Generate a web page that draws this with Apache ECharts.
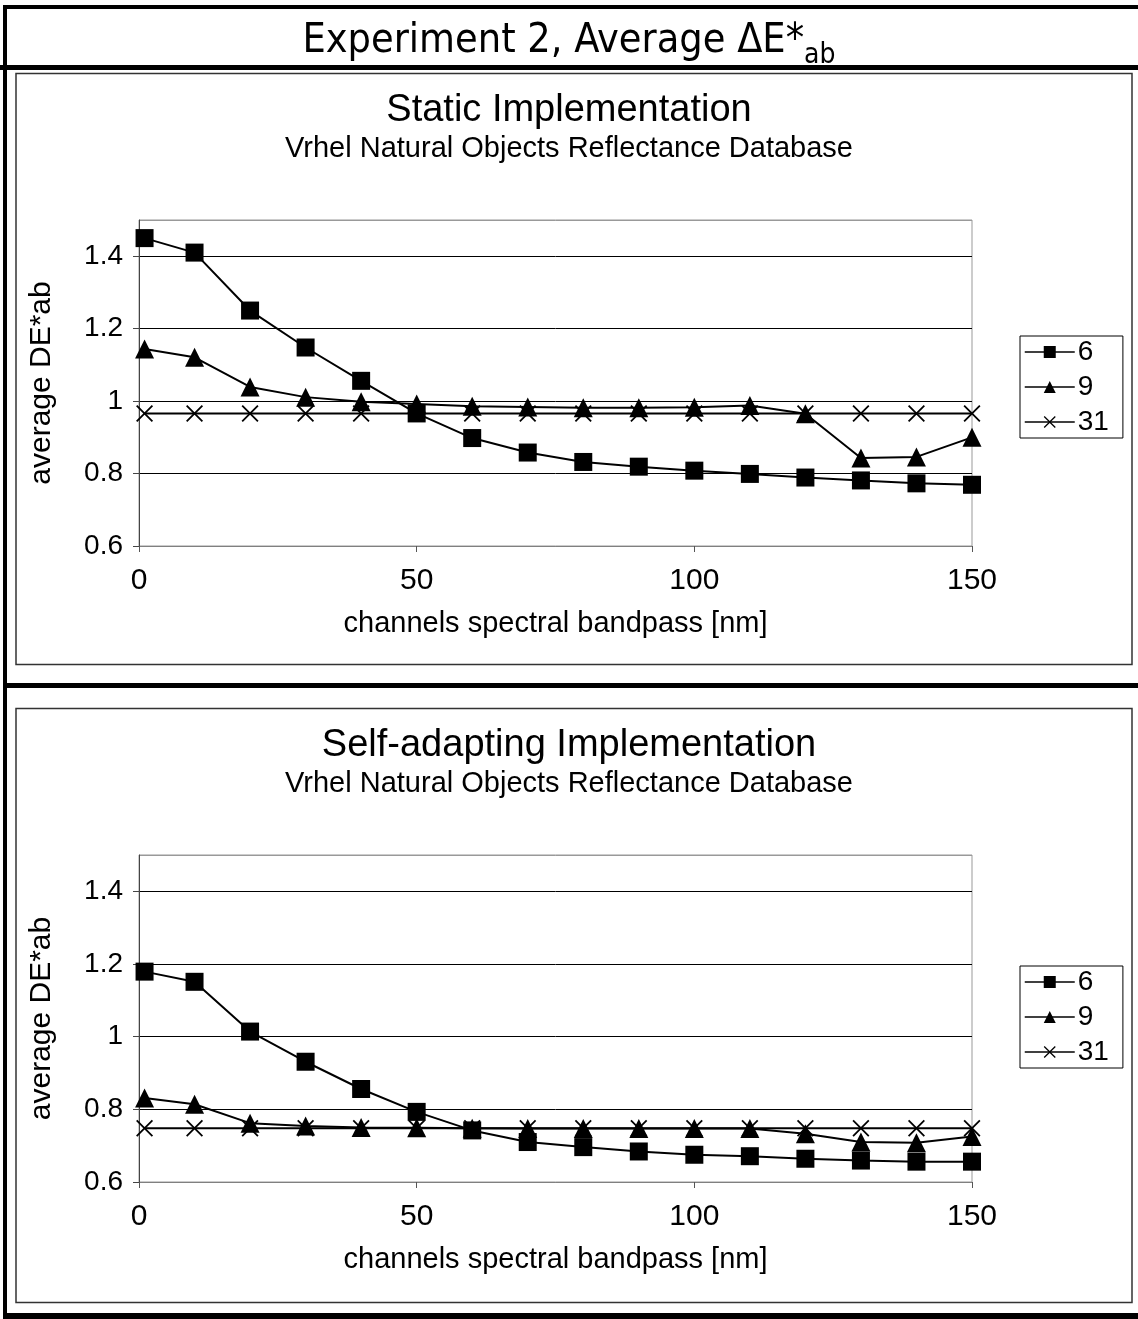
<!DOCTYPE html>
<html>
<head>
<meta charset="utf-8">
<script src="https://cdn.jsdelivr.net/npm/echarts@6/dist/echarts.min.js"></script>
<style>
html,body{margin:0;padding:0;background:#fff;}
#chart{width:1138px;height:1319px;}
</style>
</head>
<body>
<div id="chart"></div>
<script>
// ---- data ----
const bandpass = [1, 10, 20, 30, 40, 50, 60, 70, 80, 90, 100, 110, 120, 130, 140, 150];
const seriesNames = ['6', '9', '31'];
const xTicks = [0, 50, 100, 150];
const yTicks = [0.6, 0.8, 1.0, 1.2, 1.4];

const static6  = [1.450, 1.410, 1.250, 1.148, 1.056, 0.966, 0.898, 0.858, 0.832, 0.819, 0.808, 0.799, 0.789, 0.781, 0.773, 0.769];
const static9  = [1.144, 1.121, 1.039, 1.011, 0.998, 0.992, 0.986, 0.984, 0.982, 0.982, 0.983, 0.988, 0.965, 0.843, 0.846, 0.900];
const static31 = [0.966, 0.966, 0.966, 0.966, 0.966, 0.966, 0.966, 0.966, 0.966, 0.966, 0.966, 0.966, 0.966, 0.966, 0.966, 0.966];

const adapt6  = [1.179, 1.151, 1.014, 0.931, 0.856, 0.793, 0.742, 0.710, 0.696, 0.684, 0.675, 0.671, 0.664, 0.659, 0.656, 0.656];
const adapt9  = [0.831, 0.814, 0.762, 0.754, 0.750, 0.749, 0.748, 0.747, 0.747, 0.747, 0.747, 0.747, 0.733, 0.710, 0.708, 0.725];
const adapt31 = [0.748, 0.748, 0.748, 0.748, 0.748, 0.748, 0.748, 0.748, 0.748, 0.748, 0.748, 0.748, 0.748, 0.748, 0.748, 0.748];

const mainTitle = 'Experiment 2, Average ΔE*';
const mainTitleSub = 'ab';
const chartTitles = ['Static Implementation', 'Self-adapting Implementation'];
const chartSubtitle = 'Vrhel Natural Objects Reflectance Database';
const xName = 'channels spectral bandpass [nm]';
const yName = 'average DE*ab';

// ---- chart ----
const FONT = '"Liberation Sans", Arial, sans-serif';
const TFONT = '"DejaVu Sans Condensed", "DejaVu Sans", sans-serif';
const crossPath = 'path://M1.5,0 L10,8.5 L18.5,0 L20,1.5 L11.5,10 L20,18.5 L18.5,20 L10,11.5 L1.5,20 L0,18.5 L8.5,10 L0,1.5 Z';
const symbols = ['rect', 'triangle', crossPath];
const symbolSizes = [18, 19, 17];

function pairs(vals) { return bandpass.map((x, i) => [x, vals[i]]); }

function makeX(gi) {
  return {
    gridIndex: gi, type: 'value', min: 0, max: 150, interval: 50,
    axisLine: { show: true, lineStyle: { color: '#808080', width: 1 } },
    axisTick: { show: true, length: 6, lineStyle: { color: '#555' } },
    axisLabel: { fontSize: 30, color: '#000', margin: 20, fontFamily: FONT,
      formatter: v => (xTicks.indexOf(v) >= 0 ? String(v) : '') },
    splitLine: { show: false },
    name: xName, nameLocation: 'middle', nameGap: 63,
    nameTextStyle: { fontSize: 29, color: '#000', fontFamily: FONT }
  };
}
function makeY(gi) {
  return {
    gridIndex: gi, type: 'value', min: 0.6, max: 1.5, interval: 0.2,
    axisLine: { show: true, lineStyle: { color: '#444', width: 1 } },
    axisTick: { show: true, length: 6, lineStyle: { color: '#444' } },
    axisLabel: { fontSize: 28, color: '#000', margin: 16, fontFamily: FONT, showMaxLabel: false,
      formatter: v => { const r = Math.round(v * 10) / 10; return yTicks.some(t => Math.abs(t - r) < 1e-6) ? String(r) : ''; } },
    splitLine: { show: true, lineStyle: { color: ['#888', '#000', '#000', '#000', '#000', '#999'], width: 1 } },
    name: yName, nameLocation: 'middle', nameGap: 82,
    nameTextStyle: { fontSize: 30, color: '#000', fontFamily: FONT }
  };
}
function makeSeries(gi, valsList) {
  return valsList.map((vals, k) => ({
    name: seriesNames[k], type: 'line', xAxisIndex: gi, yAxisIndex: gi,
    data: pairs(vals), symbol: symbols[k], symbolSize: symbolSizes[k],
    showAllSymbol: true,
    lineStyle: { color: '#000', width: 2 },
    itemStyle: { color: '#000' },
    emphasis: { disabled: true }, z: 3 + k
  }));
}
function makeLegend(top) {
  return {
    orient: 'vertical', left: 1020, top: top, data: seriesNames,
    itemWidth: 50, itemHeight: 15, itemGap: 7,
    padding: [2, 14, 2, 4],
    borderColor: '#000', borderWidth: 1, backgroundColor: '#fff',
    textStyle: { fontSize: 28, color: '#000', fontFamily: FONT, padding: [0, 0, 0, -2] },
    lineStyle: { width: 1.5 },
    selectedMode: false
  };
}

const chart = echarts.init(document.getElementById('chart'), null, { renderer: 'canvas' });
chart.setOption({
  animation: false,
  backgroundColor: '#fff',
  title: [
    {
      text: '{a|' + mainTitle + '}{b|' + mainTitleSub + '}', left: 'center', top: 16,
      textStyle: { rich: {
        a: { fontSize: 41, fontWeight: 'normal', fontFamily: TFONT, color: '#000', padding: [0, 0, 8, 0], verticalAlign: 'bottom' },
        b: { fontSize: 28, fontWeight: 'normal', fontFamily: TFONT, color: '#000', verticalAlign: 'bottom' }
      } }
    },
    {
      text: chartTitles[0], subtext: chartSubtitle, left: 'center', top: 87, itemGap: 4,
      textStyle: { fontSize: 38, fontWeight: 'normal', color: '#000', fontFamily: FONT },
      subtextStyle: { fontSize: 29, color: '#000', fontFamily: FONT }
    },
    {
      text: chartTitles[1], subtext: chartSubtitle, left: 'center', top: 722, itemGap: 4,
      textStyle: { fontSize: 38, fontWeight: 'normal', color: '#000', fontFamily: FONT },
      subtextStyle: { fontSize: 29, color: '#000', fontFamily: FONT }
    }
  ],
  grid: [
    { left: 139, right: 166, top: 220, height: 326, show: true, borderColor: '#999', borderWidth: 1, backgroundColor: 'transparent' },
    { left: 139, right: 166, top: 855, height: 327, show: true, borderColor: '#999', borderWidth: 1, backgroundColor: 'transparent' }
  ],
  xAxis: [makeX(0), makeX(1)],
  yAxis: [makeY(0), makeY(1)],
  legend: [makeLegend(336), makeLegend(966)],
  series: makeSeries(0, [static6, static9, static31]).concat(makeSeries(1, [adapt6, adapt9, adapt31])),
  graphic: [
    { type: 'rect', shape: { x: 3, y: 5, width: 1135, height: 4 }, style: { fill: '#000' }, silent: true },
    { type: 'rect', shape: { x: 3, y: 5, width: 4, height: 1314 }, style: { fill: '#000' }, silent: true },
    { type: 'rect', shape: { x: 0, y: 65, width: 1138, height: 5 }, style: { fill: '#000' }, silent: true },
    { type: 'rect', shape: { x: 3, y: 683, width: 1135, height: 5 }, style: { fill: '#000' }, silent: true },
    { type: 'rect', shape: { x: 3, y: 1313, width: 1135, height: 6 }, style: { fill: '#000' }, silent: true },
    { type: 'rect', shape: { x: 16, y: 73.5, width: 1116, height: 591 }, style: { fill: 'none', stroke: '#333', lineWidth: 1.5 }, silent: true },
    { type: 'rect', shape: { x: 16, y: 708.5, width: 1116, height: 594 }, style: { fill: 'none', stroke: '#333', lineWidth: 1.5 }, silent: true }
  ]
});
</script>
</body>
</html>
